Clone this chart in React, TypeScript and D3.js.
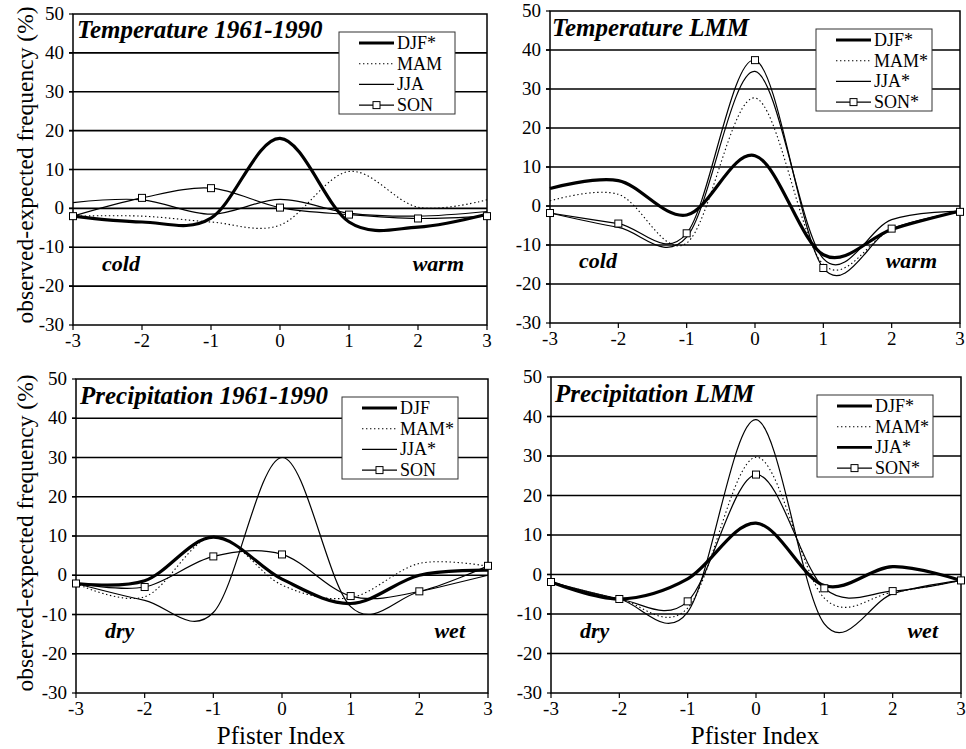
import React from 'react';
import * as d3 from 'd3';

const pfister = [-3, -2, -1, 0, 1, 2, 3];
const yTicks = [-30, -20, -10, 0, 10, 20, 30, 40, 50];
const gridValues = [-20, -10, 0, 10, 20, 30, 40];

// Temperature 1961-1990
const tempObsDJF = [-2, -3.5, -2.5, 18, -3.5, -4.8, -1.5];
const tempObsMAM = [-2, -2, -3.5, -4.3, 9.5, 0.3, 2.2];
const tempObsJJA = [1.5, 2.2, -1.5, 2.3, -1.2, -2.0, -0.8];
const tempObsSON = [-2, 2.7, 5.2, 0.2, -1.6, -2.6, -2.0];

// Temperature LMM
const tempLmmDJF = [4.5, 6.5, -2.3, 12.9, -12.5, -6, -1.3];
const tempLmmMAM = [1.3, 3, -9.5, 27.7, -15, -6, -1.3];
const tempLmmJJA = [-1.8, -5.5, -8, 34.5, -13.5, -3.5, -1.3];
const tempLmmSON = [-1.8, -4.5, -7.0, 37.4, -15.9, -5.8, -1.5];

// Precipitation 1961-1990
const precObsDJF = [-2.1, -1.4, 9.7, -1, -7.2, 0, 1.3];
const precObsMAM = [-2.1, -5.5, 9.9, -2.5, -5.7, 3, 2.3];
const precObsJJA = [-2.1, -6.4, -9.5, 30, -8, -4.2, 0];
const precObsSON = [-2.1, -3, 4.8, 5.3, -5.3, -4.1, 2.4];

// Precipitation LMM
const precLmmDJF = [-1.9, -6.2, -1.1, 13, -2.8, 2, -1.5];
const precLmmMAM = [-1.9, -6.2, -8.5, 29.7, -6, -4.5, -1.5];
const precLmmJJA = [-1.9, -6.2, -9.5, 39.2, -12.5, -4.9, -1.5];
const precLmmSON = [-1.9, -6.2, -6.8, 25.3, -3.5, -4.2, -1.5];

const labelsTempObs = ['DJF*', 'MAM', 'JJA', 'SON'];
const labelsTempLmm = ['DJF*', 'MAM*', 'JJA*', 'SON*'];
const labelsPrecObs = ['DJF', 'MAM*', 'JJA*', 'SON'];
const labelsPrecLmm = ['DJF*', 'MAM*', 'JJA*', 'SON*'];

const FONT = "'Liberation Serif'";

const styles = [
  { width: 3.2, dash: null as string | null, marker: false },
  { width: 1.1, dash: '1.4,2.6', marker: false },
  { width: 1.2, dash: null, marker: false },
  { width: 1.2, dash: null, marker: true },
];

type PanelProps = {
  x0: number; x1: number; yTop: number; yBot: number;
  title: string; titleDx: number;
  labels: string[]; series: number[][];
  notes: string[]; legendThickJJA?: boolean;
};

const f = (size: number, boldItalic = false): React.CSSProperties =>
  boldItalic
    ? { fontFamily: FONT, fontSize: size, fontWeight: 'bold', fontStyle: 'italic' }
    : { fontFamily: FONT, fontSize: size };

function Panel(p: PanelProps) {
  const x = d3.scaleLinear().domain([-3, 3]).range([p.x0, p.x1]);
  const y = d3.scaleLinear().domain([-30, 50]).range([p.yBot, p.yTop]);
  const line = d3.line<number>()
    .x((_, i) => x(pfister[i]))
    .y((d) => y(d))
    .curve(d3.curveCardinal.tension(0));
  const lx = p.x0 + 266;
  const ly = p.yTop + 18;
  const lw = 116;
  const lh = 82;
  return (
    <g>
      {gridValues.map((v) => (
        <line key={v} x1={p.x0 - 4} x2={p.x1} y1={y(v)} y2={y(v)} stroke="#000" strokeWidth={1.6} />
      ))}
      <rect x={p.x0} y={p.yTop} width={p.x1 - p.x0} height={p.yBot - p.yTop} fill="none" stroke="#000" strokeWidth={1.5} />
      {yTicks.map((v) => (
        <g key={v}>
          <line x1={p.x0 - 4} x2={p.x0} y1={y(v)} y2={y(v)} stroke="#000" strokeWidth={1.2} />
          <text x={p.x0 - 9} y={y(v) + 6} textAnchor="end" style={f(19)}>{v}</text>
        </g>
      ))}
      {pfister.map((v) => (
        <g key={v}>
          <line x1={x(v)} x2={x(v)} y1={p.yBot} y2={p.yBot + 5} stroke="#000" strokeWidth={1.2} />
          <text x={x(v)} y={p.yBot + 22} textAnchor="middle" style={f(19)}>{v}</text>
        </g>
      ))}
      <text x={p.x0 + p.titleDx} y={y(43.7)} style={f(25, true)}>{p.title}</text>
      <text x={p.x0 + 29} y={y(-16)} style={f(22, true)}>{p.notes[0]}</text>
      <text x={p.x1 - 23} y={y(-16)} textAnchor="end" style={f(22, true)}>{p.notes[1]}</text>
      {p.series.map((s, i) => (
        <path key={i} d={line(s) || ''} fill="none" stroke="#000" strokeWidth={styles[i].width}
          strokeDasharray={styles[i].dash || undefined} strokeLinejoin="round" />
      ))}
      {p.series[3].map((v, i) => (
        <rect key={i} x={x(pfister[i]) - 3.5} y={y(v) - 3.5} width={7} height={7} fill="#fff" stroke="#000" strokeWidth={1} />
      ))}
      <rect x={lx} y={ly} width={lw} height={lh} fill="#fff" stroke="#333" strokeWidth={1} />
      {p.labels.map((lab, i) => {
        const ry = ly + 11 + i * 20.7;
        const st = styles[i];
        const w = p.legendThickJJA && i === 2 ? 2.6 : st.width;
        return (
          <g key={lab}>
            <line x1={lx + 20} x2={lx + 55} y1={ry} y2={ry} stroke="#000" strokeWidth={w} strokeDasharray={st.dash || undefined} />
            {st.marker && <rect x={lx + 37.5 - 3.5} y={ry - 3.5} width={7} height={7} fill="#fff" stroke="#000" strokeWidth={1} />}
            <text x={lx + 58} y={ry + 6} style={f(18)}>{lab}</text>
          </g>
        );
      })}
    </g>
  );
}

export default function App() {
  return (
    <svg width={966} height={749} style={{ position: 'fixed', left: 0, top: 0, background: '#fff' }}>
      <rect x={0} y={0} width={966} height={749} fill="#fff" />
      <Panel x0={73} x1={487} yTop={14} yBot={325} title="Temperature 1961-1990" titleDx={4}
        labels={labelsTempObs} series={[tempObsDJF, tempObsMAM, tempObsJJA, tempObsSON]} notes={['cold', 'warm']} />
      <Panel x0={550} x1={960} yTop={11} yBot={323} title="Temperature LMM" titleDx={2}
        labels={labelsTempLmm} series={[tempLmmDJF, tempLmmMAM, tempLmmJJA, tempLmmSON]} notes={['cold', 'warm']} />
      <Panel x0={76} x1={488} yTop={379} yBot={693} title="Precipitation 1961-1990" titleDx={4}
        labels={labelsPrecObs} series={[precObsDJF, precObsMAM, precObsJJA, precObsSON]} notes={['dry', 'wet']} />
      <Panel x0={551} x1={961} yTop={377} yBot={693} title="Precipitation LMM" titleDx={4}
        labels={labelsPrecLmm} series={[precLmmDJF, precLmmMAM, precLmmJJA, precLmmSON]} notes={['dry', 'wet']} legendThickJJA />
      <text transform="translate(33,165) rotate(-90)" textAnchor="middle" style={f(23.5)}>observed-expected frequency (%)</text>
      <text transform="translate(33,533) rotate(-90)" textAnchor="middle" style={f(23.5)}>observed-expected frequency (%)</text>
      <text x={281} y={744} textAnchor="middle" style={f(25)}>Pfister Index</text>
      <text x={755} y={744} textAnchor="middle" style={f(25)}>Pfister Index</text>
    </svg>
  );
}
